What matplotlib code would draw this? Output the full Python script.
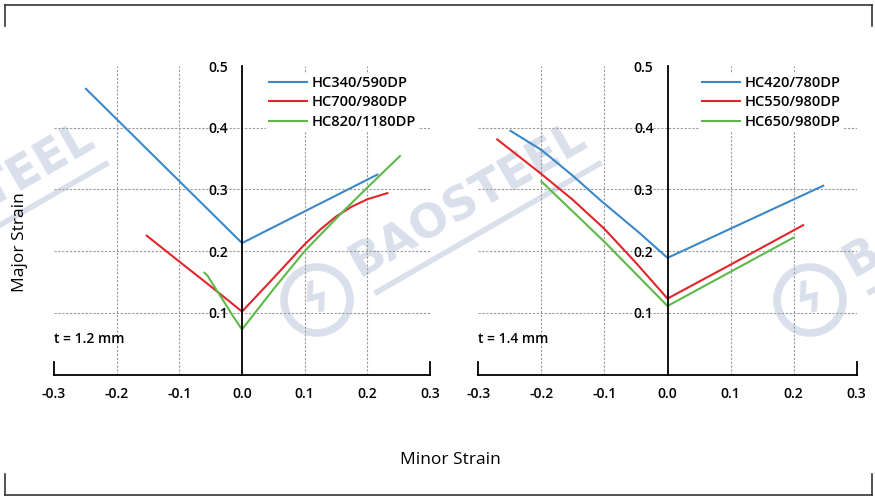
import numpy as np
import matplotlib
matplotlib.use("Agg")
from matplotlib import pyplot as plt
from matplotlib.lines import Line2D
from matplotlib.patches import Circle

plt.rcParams['font.family'] = ['Open Sans', 'DejaVu Sans']

# t = 1.2 mm
hc340_x = [-0.249, 0.0, 0.216]
hc340_y = [0.463, 0.213, 0.324]
hc700_x = [-0.152, -0.1, -0.05, 0.0, 0.05, 0.1, 0.125, 0.15, 0.175, 0.2, 0.232]
hc700_y = [0.225, 0.183, 0.143, 0.102, 0.156, 0.211, 0.235, 0.256, 0.272, 0.284, 0.294]
hc820_x = [-0.06, -0.055, -0.03, -0.014, 0.0, 0.05, 0.1, 0.162, 0.2, 0.252]
hc820_y = [0.165, 0.160, 0.120, 0.094, 0.073, 0.138, 0.200, 0.265, 0.303, 0.354]

# t = 1.4 mm
hc420_x = [-0.249, -0.2, -0.15, -0.107, -0.044, 0.0, 0.247]
hc420_y = [0.395, 0.364, 0.322, 0.283, 0.229, 0.189, 0.306]
hc550_x = [-0.27, -0.2, -0.15, -0.1, -0.05, 0.0, 0.1, 0.215]
hc550_y = [0.381, 0.325, 0.283, 0.236, 0.181, 0.123, 0.178, 0.242]
hc650_x = [-0.2, -0.1, 0.0, 0.2]
hc650_y = [0.313, 0.215, 0.111, 0.222]

x_ticks = [-0.3, -0.2, -0.1, 0.0, 0.1, 0.2, 0.3]
x_labels = ['-0.3', '-0.2', '-0.1', '0.0', '0.1', '0.2', '0.3']
y_ticks = [0.1, 0.2, 0.3, 0.4, 0.5]
y_labels = ['0.1', '0.2', '0.3', '0.4', '0.5']

blue = '#3b88c9'
red = '#e0262b'
green = '#5db948'

W, H = 875, 497
fig = plt.figure(figsize=(W / 100, H / 100), dpi=100)

# BAOSTEEL watermarks, behind the axes
wm_color = '#d9e0ec'
for dx in [-493, 0, 493]:
    cx, cy = 317 + dx, 300
    fig.patches.append(Circle((cx / 100, (H - cy) / 100), 0.33, transform=fig.dpi_scale_trans,
                              fill=False, lw=5.5, ec=wm_color, zorder=-2))
    fig.text(cx / W, 1 - cy / H, 'ϟ', fontsize=30, fontweight='bold', color=wm_color,
             ha='center', va='center', rotation=15, zorder=-2, family='DejaVu Sans')
    fig.text((cx + 43) / W, 1 - (cy - 22) / H, 'BAOSTEEL', fontsize=33, fontweight='bold',
             color=wm_color, rotation=30, rotation_mode='anchor', ha='left', va='baseline',
             zorder=-2, family='DejaVu Sans')
    fig.add_artist(Line2D([(cx + 60) / W, (cx + 282) / W], [1 - (cy - 8) / H, 1 - (cy - 136) / H],
                          color=wm_color, lw=4, zorder=-2))


def setup(ax, tlabel):
    ax.patch.set_alpha(0)
    ax.set_xlim(-0.3, 0.3)
    ax.set_ylim(0, 0.5)
    ax.spines['top'].set_visible(False)
    ax.spines['bottom'].set_linewidth(1.3)
    ax.spines['right'].set_linewidth(1.3)
    ax.spines['right'].set_bounds(0, 0.02)
    ax.spines['left'].set_position(('data', 0))
    ax.spines['left'].set_linewidth(1.3)
    ax.axvline(-0.3, ymin=0, ymax=0.04, color='black', lw=1.3, clip_on=False)
    ax.set_xticks(x_ticks)
    ax.set_xticklabels(x_labels)
    ax.tick_params(axis='x', length=0, pad=9, labelsize=10)
    ax.set_yticks(y_ticks)
    ax.set_yticklabels(y_labels)
    ax.tick_params(axis='y', which='major', length=0, pad=10, labelsize=10)
    ax.set_yticks([0.5], minor=True)
    ax.tick_params(axis='y', which='minor', direction='inout', length=22, width=1.3)
    for lab in ax.get_xticklabels() + ax.get_yticklabels():
        lab.set_fontweight('semibold')
    for gx in [-0.2, -0.1, 0.1, 0.2]:
        ax.axvline(gx, color='#9a9a9a', lw=0.8, ls=(0, (2, 1.5)), zorder=0)
    for gy in [0.1, 0.2, 0.3, 0.4]:
        ax.axhline(gy, color='#9a9a9a', lw=0.8, ls=(0, (2, 1.5)), zorder=0)
    ax.text(-0.3, 0.057, tlabel, fontsize=10, fontweight='semibold', va='center', ha='left')


def add_legend(ax, x0):
    leg = ax.legend(loc='upper left', bbox_to_anchor=(x0, 0.975), frameon=True, fancybox=False,
                    handlelength=2.6, handletextpad=0.35, labelspacing=0.38, borderpad=0.15,
                    borderaxespad=0, prop={'size': 10.5, 'weight': 'semibold'})
    leg.get_frame().set_facecolor('white')
    leg.get_frame().set_edgecolor('none')
    leg.get_frame().set_alpha(1)


ax1 = fig.add_axes([54 / W, 1 - 374.5 / H, 376 / W, 308.5 / H])
setup(ax1, 't = 1.2 mm')
ax1.plot(hc340_x, hc340_y, color=blue, lw=1.5, label='HC340/590DP')
ax1.plot(hc700_x, hc700_y, color=red, lw=1.5, label='HC700/980DP')
ax1.plot(hc820_x, hc820_y, color=green, lw=1.5, label='HC820/1180DP')
add_legend(ax1, 0.565)

ax2 = fig.add_axes([478.3 / W, 1 - 374.5 / H, 378.4 / W, 308.5 / H])
setup(ax2, 't = 1.4 mm')
ax2.plot(hc420_x, hc420_y, color=blue, lw=1.5, label='HC420/780DP')
ax2.plot(hc550_x, hc550_y, color=red, lw=1.5, label='HC550/980DP')
ax2.plot(hc650_x, hc650_y, color=green, lw=1.5, label='HC650/980DP')
add_legend(ax2, 0.585)

fig.text(20 / W, 1 - 242 / H, 'Major Strain', rotation=90, ha='center', va='center', fontsize=12.5)
fig.text(450 / W, 1 - 460 / H, 'Minor Strain', ha='center', va='center', fontsize=12.5)

# frame brackets
fc = '#333333'
fig.add_artist(Line2D([5 / W, 872 / W], [1 - 4.5 / H, 1 - 4.5 / H], color=fc, lw=1.2))
fig.add_artist(Line2D([5 / W, 5 / W], [1 - 4.5 / H, 1 - 26 / H], color=fc, lw=1.2))
fig.add_artist(Line2D([872 / W, 872 / W], [1 - 4.5 / H, 1 - 26 / H], color=fc, lw=1.2))
fig.add_artist(Line2D([5 / W, 872 / W], [1 - 495 / H, 1 - 495 / H], color=fc, lw=1.2))
fig.add_artist(Line2D([5 / W, 5 / W], [1 - 495 / H, 1 - 474 / H], color=fc, lw=1.2))
fig.add_artist(Line2D([872 / W, 872 / W], [1 - 495 / H, 1 - 474 / H], color=fc, lw=1.2))

fig.savefig('out.png', dpi=100)
